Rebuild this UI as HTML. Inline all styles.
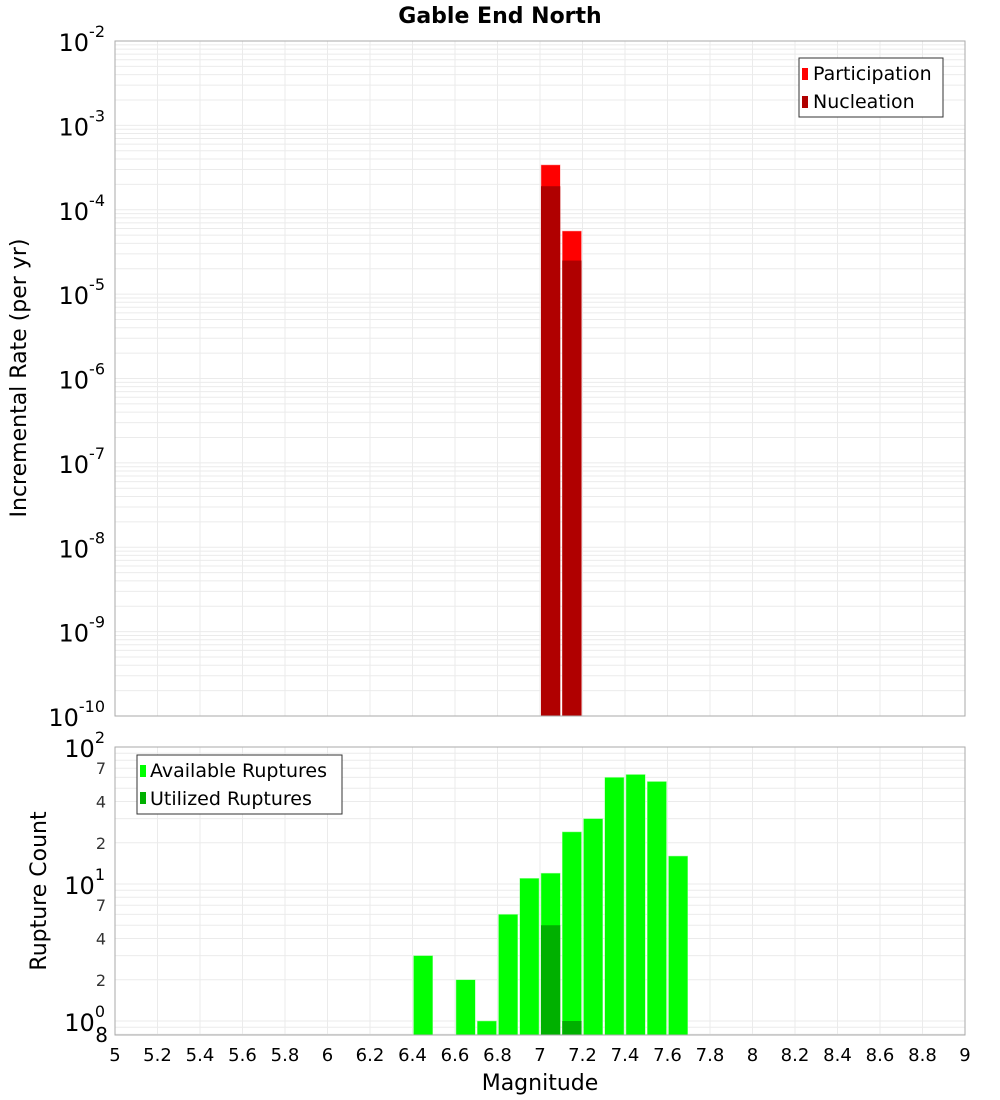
<!DOCTYPE html>
<html><head><meta charset="utf-8"><style>
body{margin:0;background:#fff}
svg{display:block;font-family:"Liberation Sans","DejaVu Sans",sans-serif}
</style></head><body>
<svg id="c" width="1000" height="1100" xmlns="http://www.w3.org/2000/svg">
<text x="500" y="23" text-anchor="middle" font-size="22" font-weight="bold" font-family="DejaVu Sans, sans-serif">Gable End North</text>
<g id="topPlot"></g>
<g id="botPlot"></g>
<text transform="translate(26,378) rotate(-90)" text-anchor="middle" font-size="22" font-family="DejaVu Sans, sans-serif">Incremental Rate (per yr)</text>
<text transform="translate(46,891) rotate(-90)" text-anchor="middle" font-size="22" font-family="DejaVu Sans, sans-serif">Rupture Count</text>
<text x="540" y="1090" text-anchor="middle" font-size="22" font-family="DejaVu Sans, sans-serif">Magnitude</text>
</svg>
<script>
const rateMags=[7.05,7.15];
const participation=[3.4e-4,5.6e-5];
const nucleation=[1.9e-4,2.5e-5];
const countMags=[6.45,6.65,6.75,6.85,6.95,7.05,7.15,7.25,7.35,7.45,7.55,7.65];
const available=[3,2,1,6,11,12,24,30,60,63,56,16];
const utilMags=[7.05,7.15];
const utilized=[5,1];
const xTicks=[5,5.2,5.4,5.6,5.8,6,6.2,6.4,6.6,6.8,7,7.2,7.4,7.6,7.8,8,8.2,8.4,8.6,8.8,9];
const topExps=[-2,-3,-4,-5,-6,-7,-8,-9,-10];
const botMinorLabels=[2,4,7];

const NS='http://www.w3.org/2000/svg';
const L=115,R=965;
const X=m=>L+(m-5)/4*(R-L);
const T0=41,T1=716;
const YT=v=>T0+(-2-Math.log10(v))*(T1-T0)/8;
const B0=747,B1=1035;
const YB=v=>B0+(2-Math.log10(v))*137;
function mk(p,tag,a,txt){const e=document.createElementNS(NS,tag);for(const k in a)e.setAttribute(k,a[k]);if(txt!==undefined)e.textContent=txt;p.appendChild(e);return e;}
const gTop=document.getElementById('topPlot'),gBot=document.getElementById('botPlot');

function frame(g,y0,y1){
  mk(g,'rect',{x:L,y:y0,width:R-L,height:y1-y0,fill:'#fff'});
  xTicks.forEach(t=>{const l=mk(g,'line',{x1:X(t),x2:X(t),y1:y0,y2:y1,stroke:'#ebebeb'});});
}
frame(gTop,T0,T1);
for(let e=-10;e<-2;e++)for(let k=1;k<10;k++){const y=YT(k*Math.pow(10,e));mk(gTop,'line',{x1:L,x2:R,y1:y,y2:y,stroke:'#ebebeb'});}
topExps.forEach(e=>{const y=YT(Math.pow(10,e));
  const t=mk(gTop,'text',{x:105,y:y+10,'text-anchor':'end','font-size':24,'font-family':'DejaVu Sans, sans-serif'});
  
  
  mk(t,'tspan',{},'10');mk(t,'tspan',{dy:-14,'font-size':16},String(e));});
rateMags.forEach((m,i)=>{
  const x=X(m-0.05)+1,w=X(m+0.05)-X(m-0.05)-2;
  const b=mk(gTop,'rect',{x,y:YT(participation[i]),width:w,height:T1-YT(participation[i]),fill:'#ff0000',stroke:'#ffb0b0','stroke-width':0.5});
  
  
  const n=mk(gTop,'rect',{x,y:YT(nucleation[i]),width:w,height:T1-YT(nucleation[i]),fill:'#b00000'});
  
  
});
mk(gTop,'rect',{x:L,y:T0,width:R-L,height:T1-T0,fill:'none',stroke:'#aaa'});
const lg=mk(gTop,'g',{});


mk(lg,'rect',{x:799,y:58,width:144,height:59,fill:'#fff',stroke:'#333'});
mk(lg,'rect',{x:802,y:68,width:6,height:12,fill:'#ff0000'});
mk(lg,'text',{x:813,y:80,'font-size':19,'font-family':'DejaVu Sans, sans-serif'},'Participation');
mk(lg,'rect',{x:802,y:96,width:6,height:12,fill:'#b00000'});
mk(lg,'text',{x:813,y:108,'font-size':19,'font-family':'DejaVu Sans, sans-serif'},'Nucleation');

frame(gBot,B0,B1);
[0.8,0.9,1,2,3,4,5,6,7,8,9,10,20,30,40,50,60,70,80,90].forEach(v=>{const y=YB(v);mk(gBot,'line',{x1:L,x2:R,y1:y,y2:y,stroke:'#ebebeb'});});
[[2,100],[1,10],[0,1]].forEach(([e,v])=>{const y=YB(v);
  const t=mk(gBot,'text',{x:105,y:y+10,'text-anchor':'end','font-size':24,'font-family':'DejaVu Sans, sans-serif'});
  
  
  mk(t,'tspan',{},'10');mk(t,'tspan',{dy:-14,'font-size':16},String(e));});
[1,10].forEach(d=>botMinorLabels.forEach(k=>{mk(gBot,'text',{x:106,y:YB(k*d)+6,'text-anchor':'end','font-size':16,fill:'#333','font-family':'DejaVu Sans, sans-serif'},String(k));}));
mk(gBot,'text',{x:108,y:1042,'text-anchor':'end','font-size':20,'font-family':'DejaVu Sans, sans-serif'},'8');
countMags.forEach((m,i)=>{
  const x=X(m-0.05)+1,w=X(m+0.05)-X(m-0.05)-2,y=YB(available[i]);
  const b=mk(gBot,'rect',{x,y,width:w,height:B1-y,fill:'#00ff00',stroke:'#a0ffa0','stroke-width':0.5});
  
  
});
utilMags.forEach((m,i)=>{
  const x=X(m-0.05)+1,w=X(m+0.05)-X(m-0.05)-2,y=YB(utilized[i]);
  const b=mk(gBot,'rect',{x,y,width:w,height:B1-y,fill:'#00b000'});
  
  
});
mk(gBot,'rect',{x:L,y:B0,width:R-L,height:B1-B0,fill:'none',stroke:'#aaa'});
const lg2=mk(gBot,'g',{});


mk(lg2,'rect',{x:137,y:755,width:205,height:59,fill:'#fff',stroke:'#333'});
mk(lg2,'rect',{x:140,y:765,width:6,height:12,fill:'#00ff00'});
mk(lg2,'text',{x:150,y:777,'font-size':19,'font-family':'DejaVu Sans, sans-serif'},'Available Ruptures');
mk(lg2,'rect',{x:140,y:792,width:6,height:12,fill:'#00b000'});
mk(lg2,'text',{x:150,y:805,'font-size':19,'font-family':'DejaVu Sans, sans-serif'},'Utilized Ruptures');
xTicks.forEach(t=>{const e=mk(gBot,'text',{x:X(t),y:1061,'text-anchor':'middle','font-size':18,'font-family':'DejaVu Sans, sans-serif'},String(t));
  
  });
</script>
</body></html>
